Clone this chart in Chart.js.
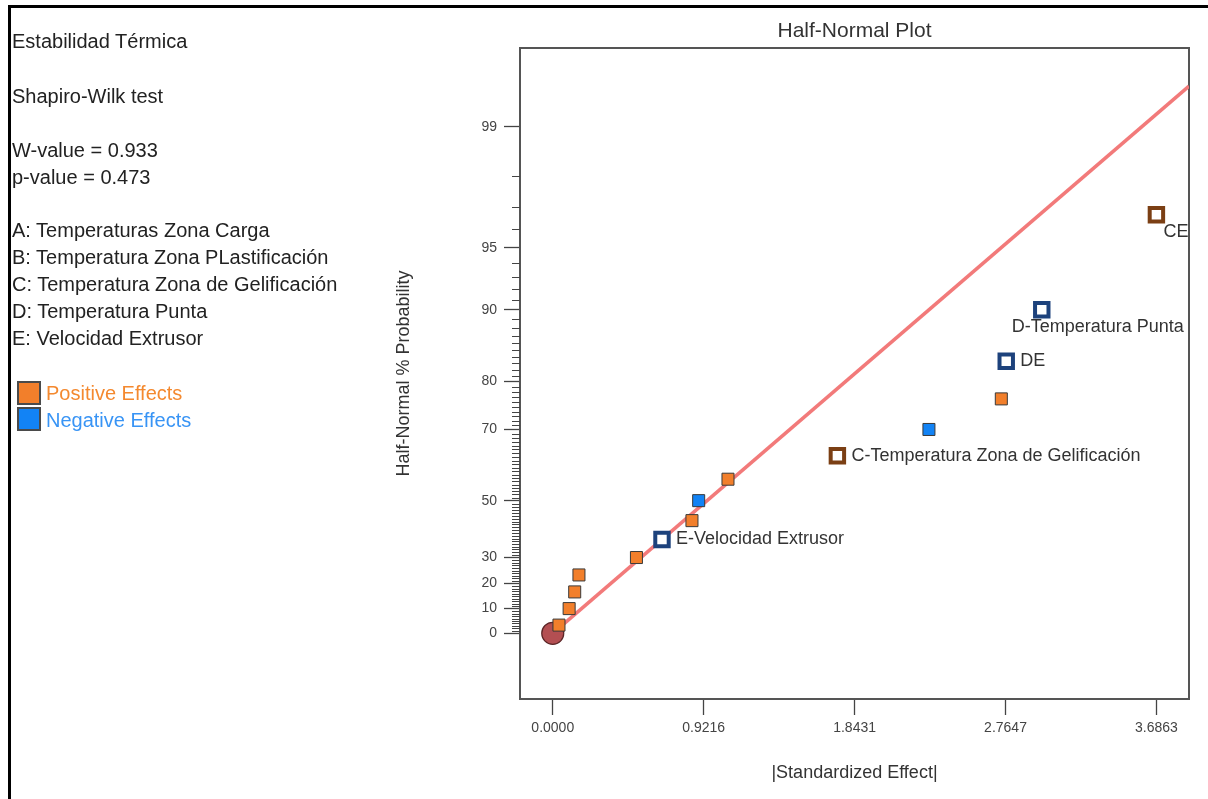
<!DOCTYPE html>
<html>
<head>
<meta charset="utf-8">
<script src="https://cdn.jsdelivr.net/npm/chart.js@4.4.0/dist/chart.umd.min.js"></script>
<style>
  html, body { margin: 0; padding: 0; background: #fff; }
  #wrap { position: relative; width: 1208px; height: 799px; overflow: hidden; }
  #frame { position: absolute; left: 8px; top: 5px; width: 1400px; height: 1000px;
           border-left: 3px solid #000; border-top: 3px solid #000; }
  #box { position: absolute; left: 0; top: 0; width: 1208px; height: 799px; }
  .info { position: absolute; left: 12px; font: 20px "Liberation Sans", Arial, sans-serif;
          color: #222; white-space: nowrap; line-height: 20px; }
  .key { position: absolute; left: 17px; width: 20px; height: 20px; border: 2px solid #4a4a4a; box-sizing: content-box; }
</style>
</head>
<body>
<div id="wrap">
  <div id="frame"></div>
  <div id="box"><canvas id="chart"></canvas></div>
  <div class="info" style="top:31px">Estabilidad Térmica</div>
  <div class="info" style="top:86px">Shapiro-Wilk test</div>
  <div class="info" style="top:140px">W-value = 0.933</div>
  <div class="info" style="top:167px">p-value = 0.473</div>
  <div class="info" style="top:220px">A: Temperaturas Zona Carga</div>
  <div class="info" style="top:247px">B: Temperatura Zona PLastificación</div>
  <div class="info" style="top:274px">C: Temperatura Zona de Gelificación</div>
  <div class="info" style="top:301px">D: Temperatura Punta</div>
  <div class="info" style="top:328px">E: Velocidad Extrusor</div>
  <div class="key" style="top:381px;background:#f27f2b"></div>
  <div class="info" style="top:383px;left:46px;color:#f4892f">Positive Effects</div>
  <div class="key" style="top:407px;background:#1283f5"></div>
  <div class="info" style="top:410px;left:46px;color:#3894f5">Negative Effects</div>
</div>
<script>
// |standardized effect| of each term, smallest to largest
var effectValues = [0.038, 0.100, 0.134, 0.160, 0.511, 0.667, 0.850, 0.891, 1.070, 1.738, 2.297, 2.739, 2.769, 2.986, 3.686];
// half-normal % probability of each term
var halfNormalPct = [3.33, 10, 16.67, 23.33, 30, 36.67, 43.33, 50, 56.67, 63.33, 70, 76.67, 83.33, 90, 96.67];
// pos / neg = unselected, posSel / negSel = selected model terms
var effectKinds = ['pos', 'pos', 'pos', 'pos', 'pos', 'negSel', 'pos', 'neg', 'pos', 'posSel', 'neg', 'pos', 'negSel', 'negSel', 'posSel'];
var effectTerms = ['', '', '', '', '', 'E-Velocidad Extrusor', '', '', '', 'C-Temperatura Zona de Gelificación', '', '', 'DE', 'D-Temperatura Punta', 'CE'];

var fitLineEffect = [0, 3.885];
var fitLinePct = [0, 99.46];
var errorEffect = [0];
var errorPct = [0];

var xTickValues = [0, 0.9216, 1.8431, 2.7647, 3.6863];
var xTickLabels = ['0.0000', '0.9216', '1.8431', '2.7647', '3.6863'];
var yTickPct = [0, 10, 20, 30, 50, 70, 80, 90, 95, 99];

// label placement relative to its point (text left, text middle)
var labelOffsets = { 5: [14, 0], 9: [14, 0], 12: [14, 0], 13: [-30, 17], 14: [7, 17] };

var FONT = '"Liberation Sans", Arial, sans-serif';

// inverse normal cdf (Acklam) -> used by the probability axis
function probit(p) {
    var a = [-3.969683028665376e+01, 2.209460984245205e+02, -2.759285104469687e+02, 1.383577518672690e+02, -3.066479806614716e+01, 2.506628277459239e+00];
    var b = [-5.447609879822406e+01, 1.615858368580409e+02, -1.556989798598866e+02, 6.680131188771972e+01, -1.328068155288572e+01];
    var c = [-7.784894002430293e-03, -3.223964580411365e-01, -2.400758277161838e+00, -2.549732539343734e+00, 4.374664141464968e+00, 2.938163982698783e+00];
    var d = [7.784695709041462e-03, 3.224671290700398e-01, 2.445134137142996e+00, 3.754408661907416e+00];
    var pl = 0.02425, q, r;
    if (p < pl) {
        q = Math.sqrt(-2 * Math.log(p));
        return (((((c[0]*q+c[1])*q+c[2])*q+c[3])*q+c[4])*q+c[5]) / ((((d[0]*q+d[1])*q+d[2])*q+d[3])*q+1);
    }
    if (p > 1 - pl) {
        q = Math.sqrt(-2 * Math.log(1 - p));
        return -(((((c[0]*q+c[1])*q+c[2])*q+c[3])*q+c[4])*q+c[5]) / ((((d[0]*q+d[1])*q+d[2])*q+d[3])*q+1);
    }
    q = p - 0.5; r = q * q;
    return (((((a[0]*r+a[1])*r+a[2])*r+a[3])*r+a[4])*r+a[5])*q / (((((b[0]*r+b[1])*r+b[2])*r+b[3])*r+b[4])*r+1);
}
function halfZ(pct) { return probit(0.5 + pct / 200); }

var kindStyle = {
    pos:    { bg: '#f27f2b', border: '#3a3a3a', bw: 1, r: 8.5 },
    neg:    { bg: '#1283f5', border: '#3a3a3a', bw: 1, r: 8.5 },
    posSel: { bg: '#ffffff', border: '#7b3f14', bw: 4, r: 9.5 },
    negSel: { bg: '#ffffff', border: '#1d427c', bw: 4, r: 9.5 }
};

var points = effectValues.map(function (x, i) { return { x: x, y: halfZ(halfNormalPct[i]) }; });

var decorations = {
    id: 'decorations',
    beforeDatasetsDraw: function (chart) {
        var ctx = chart.ctx, a = chart.chartArea, ys = chart.scales.y;
        ctx.save();
        // minor ticks at every whole percent
        ctx.strokeStyle = '#444';
        ctx.lineWidth = 1;
        for (var p = 1; p < 99; p++) {
            if (yTickPct.indexOf(p) >= 0) continue;
            var y = Math.round(ys.getPixelForValue(halfZ(p))) + 0.5;
            ctx.beginPath();
            ctx.moveTo(a.left - 8, y);
            ctx.lineTo(a.left, y);
            ctx.stroke();
        }
        // top and right side of the frame
        ctx.strokeStyle = '#555';
        ctx.lineWidth = 2;
        ctx.beginPath();
        ctx.moveTo(a.left, a.top);
        ctx.lineTo(a.right, a.top);
        ctx.lineTo(a.right, a.bottom);
        ctx.stroke();
        ctx.restore();
    },
    afterDraw: function (chart) {
        var ctx = chart.ctx, a = chart.chartArea;
        ctx.save();
        ctx.fillStyle = '#333';
        ctx.textBaseline = 'middle';
        ctx.textAlign = 'center';
        ctx.font = '21px ' + FONT;
        ctx.fillText('Half-Normal Plot', (a.left + a.right) / 2, 31);
        ctx.font = '18px ' + FONT;
        ctx.fillText('|Standardized Effect|', (a.left + a.right) / 2, 773);
        ctx.save();
        ctx.translate(404, (a.top + a.bottom) / 2);
        ctx.rotate(-Math.PI / 2);
        ctx.fillText('Half-Normal % Probability', 0, 0);
        ctx.restore();
        // term labels
        var meta = chart.getDatasetMeta(0);
        ctx.textAlign = 'left';
        ctx.font = '18px ' + FONT;
        effectTerms.forEach(function (t, i) {
            if (!t) return;
            var pt = meta.data[i], off = labelOffsets[i] || [14, 0];
            ctx.fillText(t, pt.x + off[0], pt.y + off[1]);
        });
        ctx.restore();
    }
};

new Chart(document.getElementById('chart'), {
    type: 'scatter',
    data: {
        datasets: [{
            label: 'Effects',
            data: points,
            pointStyle: 'rect',
            pointRadius: effectKinds.map(function (k) { return kindStyle[k].r; }),
            pointBackgroundColor: effectKinds.map(function (k) { return kindStyle[k].bg; }),
            pointBorderColor: effectKinds.map(function (k) { return kindStyle[k].border; }),
            pointBorderWidth: effectKinds.map(function (k) { return kindStyle[k].bw; })
        }, {
            label: 'Error',
            data: errorEffect.map(function (x, i) { return { x: x, y: halfZ(errorPct[i]) }; }),
            pointStyle: 'circle',
            pointRadius: 11,
            pointBackgroundColor: '#b34f52',
            pointBorderColor: '#5b2526',
            pointBorderWidth: 1.2
        }, {
            label: 'Fit',
            type: 'line',
            data: fitLineEffect.map(function (x, i) { return { x: x, y: halfZ(fitLinePct[i]) }; }),
            showLine: true,
            borderColor: '#f27a7a',
            borderWidth: 3.5,
            pointRadius: 0
        }]
    },
    options: {
        responsive: true,
        maintainAspectRatio: false,
        animation: false,
        layout: { padding: { left: 0, top: 48, right: 19, bottom: 0 } },
        plugins: { legend: { display: false }, tooltip: { enabled: false } },
        scales: {
            x: {
                type: 'linear',
                min: -0.2,
                max: 3.885,
                afterBuildTicks: function (scale) {
                    scale.ticks = xTickValues.map(function (v) { return { value: v }; });
                },
                afterFit: function (scale) { scale.height = 100; },
                ticks: {
                    autoSkip: false,
                    maxRotation: 0,
                    padding: 5,
                    color: '#444',
                    font: { family: FONT, size: 14 },
                    callback: function (v, i) { return xTickLabels[i]; }
                },
                grid: { drawOnChartArea: false, tickLength: 16, color: '#444', tickWidth: 1.3 },
                border: { display: true, color: '#555', width: 2 }
            },
            y: {
                type: 'linear',
                min: -0.334,
                max: 2.976,
                afterBuildTicks: function (scale) {
                    scale.ticks = yTickPct.map(function (p) { return { value: halfZ(p) }; });
                },
                afterFit: function (scale) { scale.width = 520; },
                ticks: {
                    autoSkip: false,
                    padding: 7,
                    color: '#444',
                    font: { family: FONT, size: 14 },
                    callback: function (v, i) { return String(yTickPct[i]); }
                },
                grid: { drawOnChartArea: false, tickLength: 16, color: '#444', tickWidth: 1.3 },
                border: { display: true, color: '#555', width: 2 }
            }
        }
    },
    plugins: [decorations]
});
</script>
</body>
</html>
